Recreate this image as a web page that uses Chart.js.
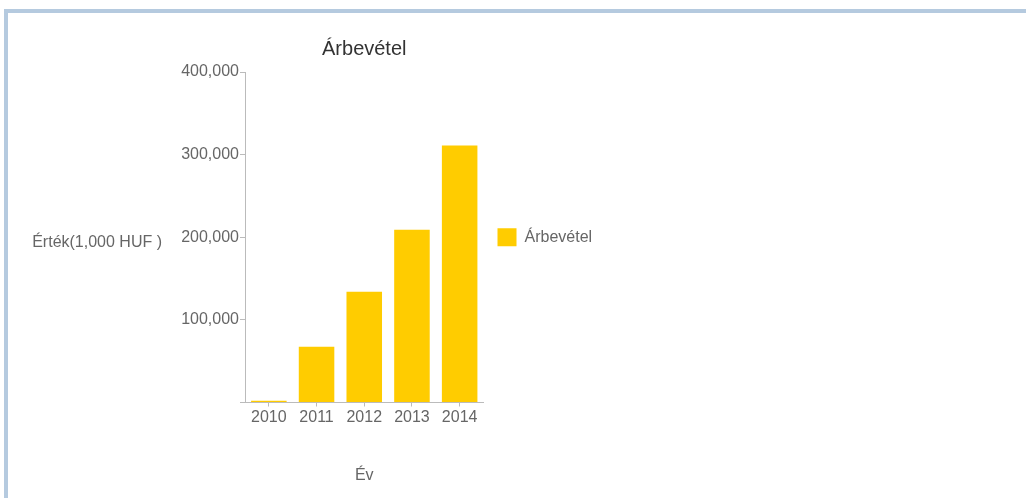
<!DOCTYPE html>
<html lang="hu">
<head>
<meta charset="utf-8">
<title>Árbevétel</title>
<script src="https://cdn.jsdelivr.net/npm/chart.js@4/dist/chart.umd.min.js"></script>
<style>
    html, body { margin: 0; padding: 0; background: #fff; overflow: hidden; }
    #frame {
        position: absolute; left: 4px; top: 9px; right: 0; bottom: 0;
        border-top: 4px solid #b5cadf; border-left: 4px solid #b5cadf;
    }
    #chartBox { position: absolute; left: 0; top: 0; width: 1026px; height: 498px; }
</style>
</head>
<body>
<div id="frame"></div>
<div id="chartBox"><canvas id="revenueChart" width="1026" height="498"></canvas></div>
<script>
// Data
const years = ['2010', '2011', '2012', '2013', '2014'];
const revenue = [2000, 67500, 134000, 209000, 311000];
const yTicks = [0, 100000, 200000, 300000, 400000];

const chartTitle = 'Árbevétel';
const seriesLabel = 'Árbevétel';
const yTitle = 'Érték(1,000 HUF )';
const xTitle = 'Év';

const FONT = '"Liberation Sans", Arial, Helvetica, sans-serif';
const textGray = '#666';
const axisGray = '#bbb';

// Legend sits just right of the plot, so work out the right padding from the text width
function legendRightPadding() {
    const ctx = document.createElement('canvas').getContext('2d');
    ctx.font = '16px ' + FONT;
    const textW = ctx.measureText(seriesLabel).width;
    const legendW = 14 + 19 + 8 + textW + 10;
    return 1026 - 483.5 - legendW;
}

// Horizontal y axis title (Chart.js only draws it rotated)
const yTitlePlugin = {
    id: 'yTitle',
    afterDraw(chart) {
        const { ctx, chartArea } = chart;
        ctx.save();
        ctx.font = '16px ' + FONT;
        ctx.fillStyle = textGray;
        ctx.textAlign = 'right';
        ctx.textBaseline = 'middle';
        ctx.fillText(yTitle, chartArea.left - 83, (chartArea.top + chartArea.bottom) / 2 + 5);
        ctx.restore();
    }
};

new Chart(document.getElementById('revenueChart'), {
    type: 'bar',
    data: {
        labels: years,
        datasets: [{
            label: seriesLabel,
            data: revenue,
            backgroundColor: '#ffcc00',
            borderWidth: 0,
            categoryPercentage: 1,
            barPercentage: 0.745
        }]
    },
    options: {
        responsive: false,
        animation: false,
        layout: { padding: { left: 0, right: legendRightPadding(), top: 0, bottom: 0 } },
        plugins: {
            title: {
                display: true,
                text: chartTitle,
                fullSize: false,
                color: '#333',
                font: { family: FONT, size: 20, weight: 'normal' },
                padding: { top: 37, bottom: 11 }
            },
            legend: {
                position: 'right',
                fullSize: false,
                labels: {
                    boxWidth: 19,
                    boxHeight: 18,
                    padding: 14,
                    color: textGray,
                    font: { family: FONT, size: 16 }
                }
            },
            tooltip: { enabled: false }
        },
        scales: {
            x: {
                grid: { display: true, drawOnChartArea: false, offset: false, tickLength: 4, color: axisGray },
                border: { color: axisGray },
                ticks: { color: textGray, padding: 1, font: { family: FONT, size: 16 } },
                title: {
                    display: true,
                    text: xTitle,
                    color: textGray,
                    font: { family: FONT, size: 16 },
                    padding: { top: 4, bottom: 13 }
                },
                afterFit(scale) { scale.height = 95.5; }
            },
            y: {
                min: yTicks[0],
                max: yTicks[yTicks.length - 1],
                afterBuildTicks(scale) { scale.ticks = yTicks.map(v => ({ value: v })); },
                grid: { display: true, drawOnChartArea: false, tickLength: 5, color: axisGray },
                border: { color: axisGray },
                ticks: {
                    color: textGray,
                    padding: 1,
                    font: { family: FONT, size: 16 },
                    callback: v => v === 0 ? '' : v.toLocaleString('en-US')
                },
                afterFit(scale) { scale.width = 245; }
            }
        }
    },
    plugins: [yTitlePlugin]
});
</script>
</body>
</html>
